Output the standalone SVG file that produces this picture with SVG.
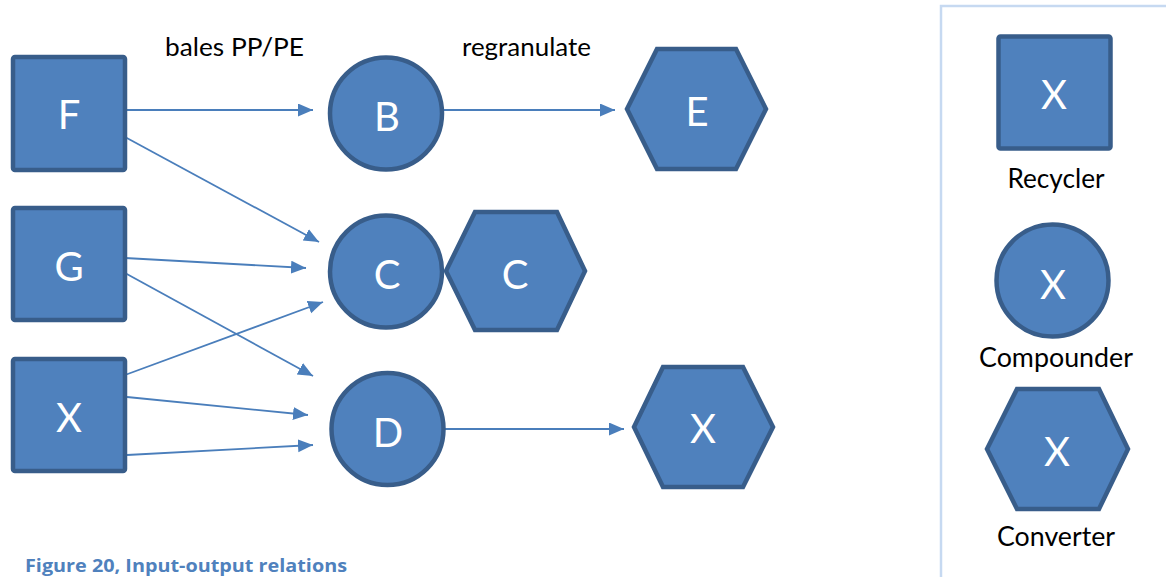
<svg xmlns="http://www.w3.org/2000/svg" width="1166" height="577" viewBox="0 0 1166 577">
<style>
.shape{fill:#4f81bd;stroke:#385d8a;stroke-width:4.5}
.lbl{fill:#ffffff;font-family:Lato,"Open Sans","Liberation Sans",sans-serif;font-size:40px;text-anchor:middle}
.txt{fill:#000000;font-family:Lato,"Open Sans","Liberation Sans",sans-serif;font-size:25px}
.lg{fill:#000000;font-family:Lato,"Open Sans","Liberation Sans",sans-serif;font-size:26px;text-anchor:middle}
.cap{fill:#4f81bd;font-family:"Open Sans",Lato,"Liberation Sans",sans-serif;font-size:18px;font-weight:bold}
.edge{stroke:#4a7ebb;stroke-width:1.8;fill:none;marker-end:url(#arr)}
</style>
<defs>
<marker id="arr" markerUnits="userSpaceOnUse" markerWidth="16" markerHeight="14" refX="15" refY="6.5" orient="auto">
<path d="M0,0 L15,6.5 L0,13 z" fill="#4a7ebb"/>
</marker>
</defs>
<rect x="0" y="0" width="1166" height="577" fill="#ffffff"/>

<g id="connectors">
<line class="edge" x1="125" y1="110" x2="313" y2="110"/>
<line class="edge" x1="125" y1="137" x2="319" y2="242"/>
<line class="edge" x1="125" y1="258" x2="306" y2="268"/>
<line class="edge" x1="125" y1="273" x2="313" y2="376"/>
<line class="edge" x1="125" y1="375" x2="323" y2="302"/>
<line class="edge" x1="127" y1="397" x2="308" y2="415"/>
<line class="edge" x1="127" y1="455" x2="313" y2="445"/>
<line class="edge" x1="444" y1="110" x2="615" y2="110"/>
<line class="edge" x1="445" y1="429" x2="624" y2="429"/>
</g>

<g id="node-F"><rect class="shape" x="13" y="57" width="112" height="113" rx="2"/><text class="lbl" x="69" y="129">F</text></g>
<g id="node-G"><rect class="shape" x="13" y="208" width="112" height="112" rx="2"/><text class="lbl" x="69" y="281">G</text></g>
<g id="node-X"><rect class="shape" x="13" y="359" width="112" height="112" rx="2"/><text class="lbl" x="69" y="432">X</text></g>

<g id="node-B"><circle class="shape" cx="386" cy="113.5" r="56"/><text class="lbl" x="387" y="131">B</text></g>
<g id="node-C-circle"><circle class="shape" cx="386" cy="271.5" r="56"/><text class="lbl" x="387" y="289">C</text></g>
<g id="node-D"><circle class="shape" cx="387.5" cy="429" r="56"/><text class="lbl" x="388" y="447">D</text></g>

<g id="node-C-hex"><polygon class="shape" points="446,271 475,212 557,212 585,271 557,330 475,330"/><text class="lbl" x="515" y="289">C</text></g>
<g id="node-E"><polygon class="shape" points="627,109 657,49 736,49 766,109 736,169 657,169"/><text class="lbl" x="697" y="126">E</text></g>
<g id="node-X-hex"><polygon class="shape" points="634,427 663,367 743,367 773,427 743,487 663,487"/><text class="lbl" x="703" y="443">X</text></g>

<g id="labels">
<text class="txt" x="165" y="56" textLength="139" lengthAdjust="spacingAndGlyphs">bales PP/PE</text>
<text class="txt" x="462" y="56" textLength="129" lengthAdjust="spacingAndGlyphs">regranulate</text>
</g>

<g id="legend">
<rect x="941" y="6" width="240" height="590" fill="none" stroke="#c6d9f1" stroke-width="2.5"/>
<g id="legend-recycler"><rect class="shape" x="998.5" y="36.5" width="112" height="112" rx="2"/><text class="lbl" x="1054" y="109">X</text><text class="lg" x="1056" y="188" textLength="97" lengthAdjust="spacingAndGlyphs">Recycler</text></g>
<g id="legend-compounder"><circle class="shape" cx="1052.5" cy="280.5" r="56"/><text class="lbl" x="1053" y="299">X</text><text class="lg" x="1056" y="367" textLength="154" lengthAdjust="spacingAndGlyphs">Compounder</text></g>
<g id="legend-converter"><polygon class="shape" points="987,449 1017,389 1099,389 1128,449 1099,509 1017,509"/><text class="lbl" x="1057" y="466">X</text><text class="lg" x="1056" y="546" textLength="118" lengthAdjust="spacingAndGlyphs">Converter</text></g>
</g>

<text class="cap" x="25" y="572" textLength="322" lengthAdjust="spacingAndGlyphs">Figure 20, Input-output relations</text>
</svg>
